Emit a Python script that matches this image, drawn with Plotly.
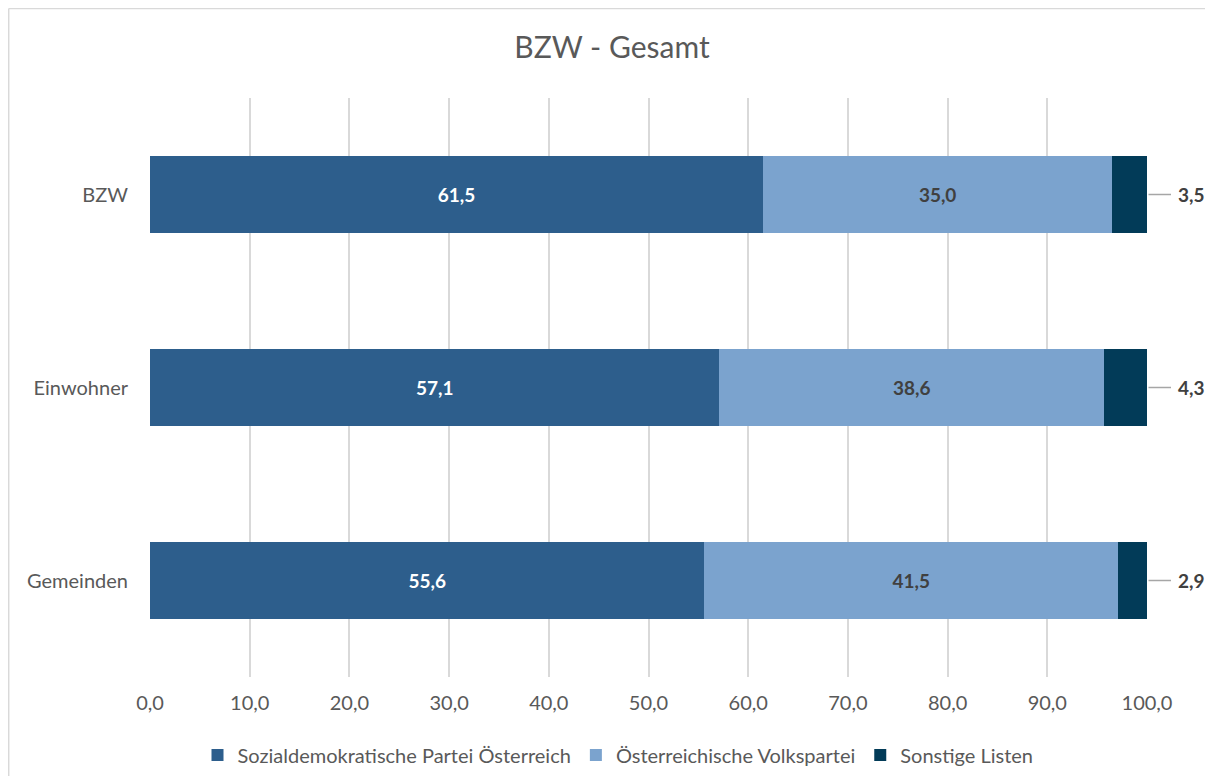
import plotly.graph_objects as go

categories = ["BZW", "Einwohner", "Gemeinden"]
spoe = [61.5, 57.1, 55.6]
oevp = [35.0, 38.6, 41.5]
sonstige = [3.5, 4.3, 2.9]
series_names = ["Sozialdemokratische Partei Österreich", "Österreichische Volkspartei", "Sonstige Listen"]
colors = ["#2D5E8C", "#7BA3CE", "#023B58"]
tick_vals = [0, 10, 20, 30, 40, 50, 60, 70, 80, 90, 100]

FONT = "Lato, 'Open Sans', sans-serif"
# figure is placed by the page at (8, 8)
W, H = 1197, 768
ML, MR, MT, MB = 142, 58, 90, 99
PW, PH = W - ML - MR, H - MT - MB


def fmt(v):
    return f"{v:.1f}".replace(".", ",")


fig = go.Figure()
fig.add_bar(y=categories, x=spoe, orientation="h", name=series_names[0],
            marker=dict(color=colors[0], line=dict(width=0)),
            text=[fmt(v) for v in spoe], textposition="inside",
            insidetextanchor="middle",
            textfont=dict(color="white", size=19, family=FONT, weight="bold"))
fig.add_bar(y=categories, x=oevp, orientation="h", name=series_names[1],
            marker=dict(color=colors[1], line=dict(width=0)),
            text=[fmt(v) for v in oevp], textposition="inside",
            insidetextanchor="middle",
            textfont=dict(color="#404040", size=19, family=FONT, weight="bold"))
fig.add_bar(y=categories, x=sonstige, orientation="h", name=series_names[2],
            marker=dict(color=colors[2], line=dict(width=0)),
            textposition="none")

# outside labels with leader lines for "Sonstige"
cat_order = categories[::-1]
for cat, s, o, v in zip(categories, spoe, oevp, sonstige):
    total = s + o + v
    ypos = (cat_order.index(cat) + 0.5) / len(cat_order)
    fig.add_annotation(x=total, y=cat, xref="x", yref="y", text=f"<b>{fmt(v)}</b>",
                       showarrow=False, xanchor="left", xshift=29,
                       font=dict(size=19, color="#404040", family=FONT))
    fig.add_shape(type="line", xref="paper", yref="paper",
                  x0=total / 100 + 1.5 / PW, x1=total / 100 + 24 / PW, y0=ypos, y1=ypos,
                  line=dict(color="#A6A6A6", width=1.5))

# outer chart border: only left and top edges are visible in the reference
left_x = -ML / PW + 0.7 / PW
top_y = 1 + (MT - 0.5) / PH
fig.add_shape(type="line", xref="paper", yref="paper",
              x0=left_x, x1=left_x, y0=-(MB + 30) / PH, y1=top_y,
              line=dict(color="#D9D9D9", width=1.5))
fig.add_shape(type="line", xref="paper", yref="paper",
              x0=left_x, x1=(W - ML + 30) / PW, y0=top_y, y1=top_y,
              line=dict(color="#D9D9D9", width=1.5))

fig.update_layout(
    width=W, height=H,
    barmode="stack", bargap=0.6,
    separators=",.",
    paper_bgcolor="white", plot_bgcolor="white",
    margin=dict(l=ML, r=MR, t=MT, b=MB, autoexpand=False),
    title=dict(text="BZW - Gesamt", x=604 / W, xref="container", xanchor="center",
               y=1 - 39 / H, yref="container", yanchor="middle",
               font=dict(size=30, color="#595959", family=FONT)),
    font=dict(family=FONT, color="#595959", size=20),
    legend=dict(orientation="h", x=(610 - ML) / PW, xanchor="center",
                y=(MT + PH - 747) / PH, yanchor="middle",
                font=dict(size=20, color="#595959", family=FONT), traceorder="normal",
                itemwidth=30, bgcolor="rgba(0,0,0,0)"),
    xaxis=dict(range=[0, 100], tickvals=tick_vals, tickformat=".1f",
               showgrid=True, gridcolor="#D9D9D9", gridwidth=1.5, zeroline=False,
               showline=False, ticks="", ticklabelstandoff=12,
               tickfont=dict(size=20, color="#595959")),
    yaxis=dict(categoryorder="array", categoryarray=cat_order,
               range=[-0.5, 2.5], showgrid=False, zeroline=False, showline=False,
               ticks="", ticklabelstandoff=21,
               tickfont=dict(size=20, color="#595959")),
)

fig.write_html("out.html")
